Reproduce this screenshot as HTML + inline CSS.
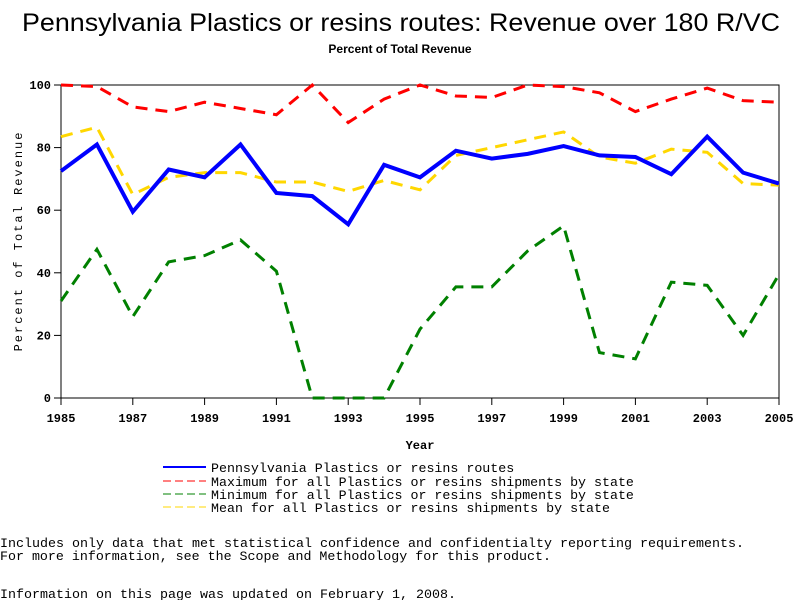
<!DOCTYPE html>
<html><head><meta charset="utf-8"><style>
body{margin:0;background:#fff;width:800px;height:600px;overflow:hidden}
svg{display:block}
</style></head><body>
<svg id="chart" width="800" height="600" xmlns="http://www.w3.org/2000/svg">
<text x="401" y="31" text-anchor="middle" font-family="Liberation Sans, sans-serif" font-size="25" textLength="758" lengthAdjust="spacingAndGlyphs">Pennsylvania Plastics or resins routes: Revenue over 180 R/VC</text>
<text x="400" y="53" text-anchor="middle" font-family="Liberation Sans, sans-serif" font-size="12" font-weight="bold">Percent of Total Revenue</text>
<rect x="61" y="85" width="718" height="313" fill="none" stroke="#000" stroke-width="1"/>
<g id="axes"></g>
<g id="series"></g>
<text x="420" y="449" text-anchor="middle" font-family="Liberation Mono, monospace" font-size="12" font-weight="bold">Year</text>
<text transform="translate(22,241) rotate(-90)" text-anchor="middle" font-family="Liberation Mono, monospace" font-size="12" letter-spacing="2">Percent of Total Revenue</text>
<g font-family="Liberation Mono, monospace" font-size="13.3">
<line x1="163" y1="467" x2="206" y2="467" stroke="#0000ff" stroke-width="2"/>
<text x="211" y="472">Pennsylvania Plastics or resins routes</text>
<line x1="163" y1="481" x2="206" y2="481" stroke="#ff0000" stroke-dasharray="8,4"/>
<text x="211" y="486">Maximum for all Plastics or resins shipments by state</text>
<line x1="163" y1="494" x2="206" y2="494" stroke="#008000" stroke-dasharray="8,4"/>
<text x="211" y="499">Minimum for all Plastics or resins shipments by state</text>
<line x1="163" y1="507" x2="206" y2="507" stroke="#ffd700" stroke-dasharray="8,4"/>
<text x="211" y="512">Mean for all Plastics or resins shipments by state</text>
</g>
<g font-family="Liberation Mono, monospace" font-size="13.3">
<text x="0" y="547" textLength="744" lengthAdjust="spacingAndGlyphs">Includes only data that met statistical confidence and confidentialty reporting requirements.</text>
<text x="0" y="560" textLength="551" lengthAdjust="spacingAndGlyphs">For more information, see the Scope and Methodology for this product.</text>
<text x="0" y="598" textLength="456" lengthAdjust="spacingAndGlyphs">Information on this page was updated on February 1, 2008.</text>
</g>
</svg>
<script>
const years=[1985,1986,1987,1988,1989,1990,1991,1992,1993,1994,1995,1996,1997,1998,1999,2000,2001,2002,2003,2004,2005];
const paValues=[72.5,81,59.5,73,70.5,81,65.5,64.5,55.5,74.5,70.5,79,76.5,78,80.5,77.5,77,71.5,83.5,72,68.5];
const maxValues=[100,99.5,93,91.5,94.5,92.5,90.5,100,88,95.5,100,96.5,96,100,99.5,97.5,91.5,95.5,99,95,94.5];
const minValues=[31,47.5,26,43.5,45.5,50.5,40.5,0,0,0,22,35.5,35.5,47,55,14.5,12.5,37,36,20,39.5];
const meanValues=[83.5,86.5,65,70.5,72,72,69,69,66,69.5,66.5,77.5,80,82.5,85,77,75,79.5,78.5,68.5,68];
const xTicks=[1985,1987,1989,1991,1993,1995,1997,1999,2001,2003,2005];
const yTicks=[0,20,40,60,80,100];
const NS='http://www.w3.org/2000/svg';
const xs=y=>61+(y-1985)/20*718;
const ys=v=>398-v/100*313;
const axes=document.getElementById('axes'),series=document.getElementById('series');
function mk(tag,attrs,parent){const e=document.createElementNS(NS,tag);for(const k in attrs)e.setAttribute(k,attrs[k]);parent.appendChild(e);return e;}
xTicks.forEach(t=>{
  const l=mk('line',{x1:xs(t),x2:xs(t),y1:398,y2:405,stroke:'#000'},axes);
  
  
  const tx=mk('text',{x:xs(t),y:422,'text-anchor':'middle','font-family':'Liberation Mono, monospace','font-size':'12','font-weight':'bold'},axes);
  tx.textContent=t;
  
  
});
yTicks.forEach(t=>{
  const l=mk('line',{x1:54,x2:61,y1:ys(t),y2:ys(t),stroke:'#000'},axes);
  
  
  const tx=mk('text',{x:51,y:ys(t)+4,'text-anchor':'end','font-family':'Liberation Mono, monospace','font-size':'12','font-weight':'bold'},axes);
  tx.textContent=t;
  
  
});
function draw(vals,color,width,dash,name){
  const p=mk('polyline',{points:vals.map((v,i)=>xs(years[i])+','+ys(v)).join(' '),fill:'none',stroke:color,'stroke-width':width,'stroke-linejoin':'miter'},series);
  if(dash)p.setAttribute('stroke-dasharray',dash);
  
  
}
draw(maxValues,'#ff0000',3,'12,8','max-line');
draw(minValues,'#008000',3,'12,8','min-line');
draw(meanValues,'#ffd700',3,'12,8','mean-line');
draw(paValues,'#0000ff',4,null,'pennsylvania-line');
</script>
</body></html>
